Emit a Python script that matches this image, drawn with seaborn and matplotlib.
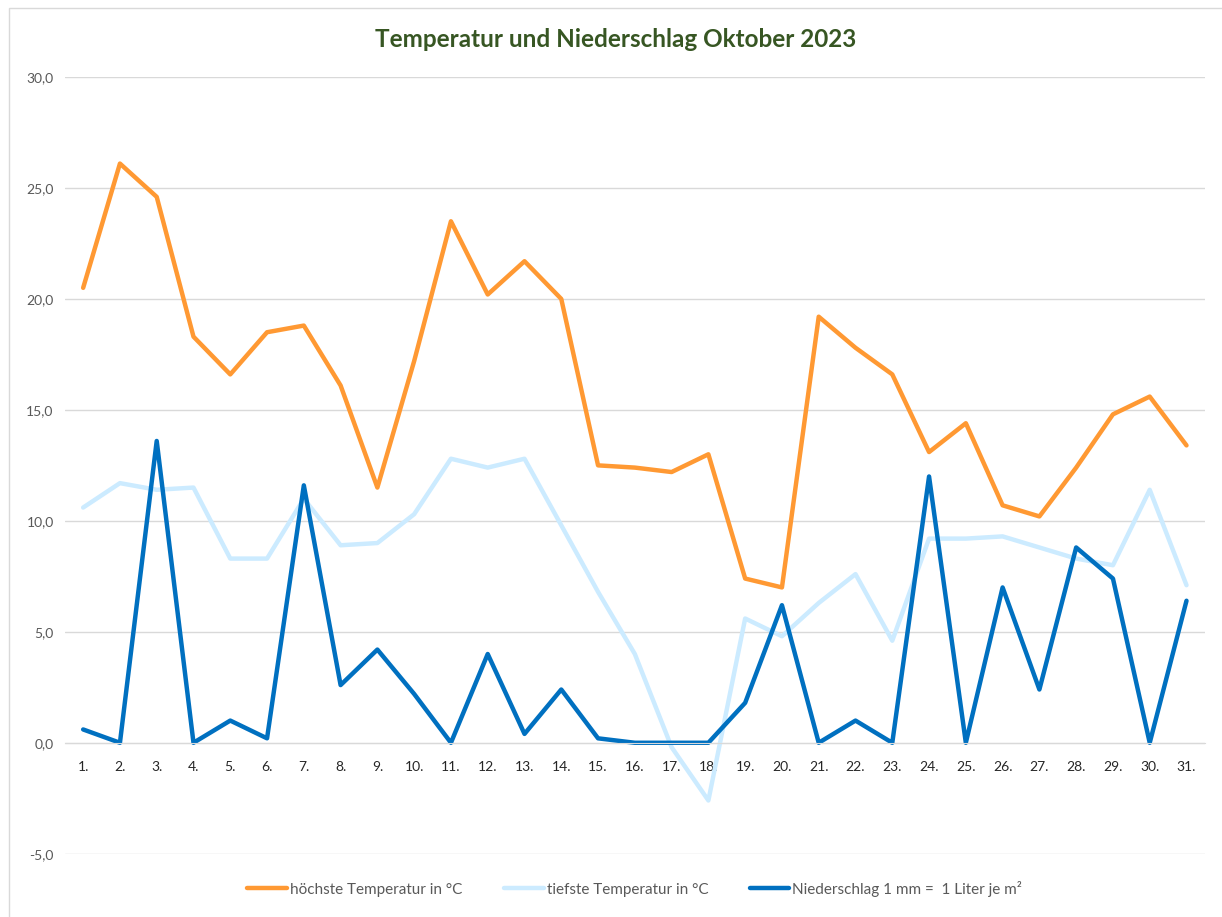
import pandas as pd
import numpy as np
import matplotlib
matplotlib.use("Agg")
import matplotlib.pyplot as plt
import seaborn as sns
from matplotlib.patches import Rectangle

#  Daily values, October 2023
days = list(range(1, 32))
day_labels = [f"{d}." for d in days]
max_temp = [20.5, 26.1, 24.6, 18.3, 16.6, 18.5, 18.8, 16.1, 11.5, 17.2,
            23.5, 20.2, 21.7, 20.0, 12.5, 12.4, 12.2, 13.0, 7.4, 7.0,
            19.2, 17.8, 16.6, 13.1, 14.4, 10.7, 10.2, 12.4, 14.8, 15.6, 13.4]
min_temp = [10.6, 11.7, 11.4, 11.5, 8.3, 8.3, 11.0, 8.9, 9.0, 10.3,
            12.8, 12.4, 12.8, 9.8, 6.8, 4.0, -0.2, -2.6, 5.6, 4.8,
            6.3, 7.6, 4.6, 9.2, 9.2, 9.3, 8.8, 8.3, 8.0, 11.4, 7.1]
rain = [0.6, 0.0, 13.6, 0.0, 1.0, 0.2, 11.6, 2.6, 4.2, 2.2,
        0.0, 4.0, 0.4, 2.4, 0.2, 0.0, 0.0, 0.0, 1.8, 6.2,
        0.0, 1.0, 0.0, 12.0, 0.0, 7.0, 2.4, 8.8, 7.4, 0.0, 6.4]
series_names = ["höchste Temperatur in °C", "tiefste Temperatur in °C",
                "Niederschlag 1 mm =  1 Liter je m²"]
colors = ["#FF9933", "#CCEBFF", "#0070C0"]

df = pd.DataFrame({"day": days * 3,
                   "value": max_temp + min_temp + rain,
                   "series": [series_names[0]] * 31 + [series_names[1]] * 31 + [series_names[2]] * 31})

sns.set_style("white")
plt.rcParams['font.family'] = ['Lato', 'DejaVu Sans']

fig = plt.figure(figsize=(12.22, 9.17), dpi=100)
ax = fig.add_axes([0.053, 0.069, 0.933, 0.847])

sns.lineplot(data=df, x="day", y="value", hue="series", hue_order=series_names,
             palette=colors, linewidth=3.2, sort=False, ax=ax)

ax.set_ylim(-5, 30)
ax.set_xlim(0.5, 31.5)
ax.set_yticks(np.arange(-5, 31, 5))
ax.set_yticklabels([f"{v:.1f}".replace(".", ",") for v in np.arange(-5, 31, 5)],
                   fontsize=10, color="#595959")
ax.set_xticks(days)
ax.set_xticklabels(day_labels, fontsize=10.5, color="#595959")
ax.tick_params(axis="y", length=0, pad=8)
ax.tick_params(axis="x", length=0, pad=13)
ax.grid(axis="y", color="#D9D9D9", linewidth=1)
ax.set_axisbelow(True)
for s in ["top", "right", "left"]:
    ax.spines[s].set_visible(False)
ax.spines["bottom"].set_position(("data", 0))
ax.spines["bottom"].set_color("#D9D9D9")
ax.set_xlabel("")
ax.set_ylabel("")

fig.suptitle("Temperatur und Niederschlag Oktober 2023", x=0.504, y=0.97,
             fontsize=17.5, fontweight="bold", color="#375623")

ax.legend(loc="center", bbox_to_anchor=(0.5, -0.045), ncol=3, frameon=False,
          fontsize=11, handlelength=2.6, columnspacing=2.7, handletextpad=0.2,
          labelcolor="#595959")

fig.add_artist(Rectangle((0.007, -0.01), 1.0, 1.001, transform=fig.transFigure,
                         fill=False, edgecolor="#D9D9D9", linewidth=1))

fig.savefig("out.png", dpi=100)
